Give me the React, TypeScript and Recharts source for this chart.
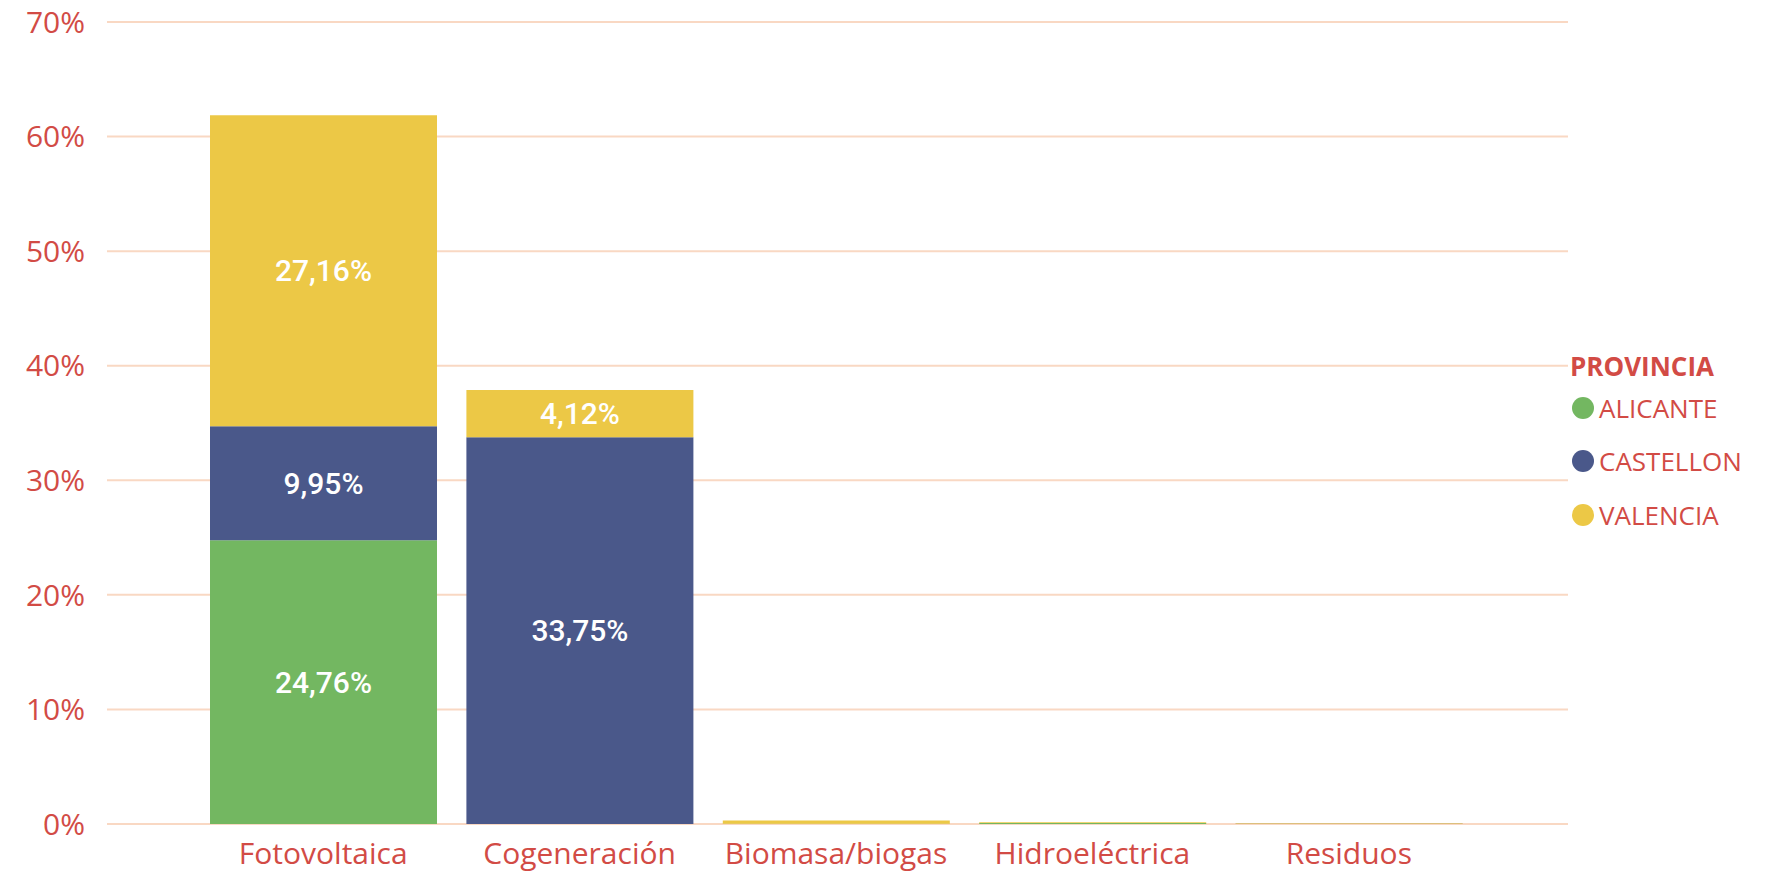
import { BarChart, Bar, XAxis, YAxis, CartesianGrid, LabelList } from 'recharts'

const categories = ['Fotovoltaica', 'Cogeneración', 'Biomasa/biogas', 'Hidroeléctrica', 'Residuos']
const alicante = [24.76, 0, 0.02, 0.08, 0.01]
const castellon = [9.95, 33.75, 0.01, 0.01, 0.01]
const valencia = [27.16, 4.12, 0.27, 0.06, 0.04]
const yTicks = [0, 10, 20, 30, 40, 50, 60, 70]

const series = [
    { key: 'alicante', name: 'ALICANTE', color: '#73B761' },
    { key: 'castellon', name: 'CASTELLON', color: '#4A588A' },
    { key: 'valencia', name: 'VALENCIA', color: '#ECC846' },
]

const data = categories.map((name, i) => ({
    name,
    alicante: alicante[i],
    castellon: castellon[i],
    valencia: valencia[i],
}))

const textColor = '#D24B45'
const font = '"Open Sans", "Noto Sans", sans-serif'

// hide labels on the tiny segments
const fmtLabel = (v: any) => (typeof v === 'number' && v >= 1 ? `${v.toFixed(2).replace('.', ',')}%` : '')

export default function App() {
    return (
        <div style={{ position: 'absolute', left: 0, top: 0, width: 1768, height: 874, background: '#fff' }}>
            <BarChart
                width={1768}
                height={874}
                data={data}
                margin={{ top: 22, right: 200, left: 0, bottom: 0 }}
                barSize={227}
            >
                <CartesianGrid vertical={false} stroke="#F9D8C3" strokeWidth={2} />
                <XAxis
                    dataKey="name"
                    height={50}
                    axisLine={false}
                    tickLine={false}
                    tickSize={0}
                    tickMargin={19}
                    padding={{ left: 88, right: 91 }}
                    tick={{ fill: textColor, fontSize: 30, fontFamily: font }}
                    interval={0}
                />
                <YAxis
                    width={107}
                    domain={[0, 70]}
                    ticks={yTicks}
                    axisLine={false}
                    tickLine={false}
                    tickSize={0}
                    tickMargin={22}
                    tickFormatter={(v) => `${v}%`}
                    tick={{ fill: textColor, fontSize: 30, fontFamily: font }}
                />
                {series.map((s) => (
                    <Bar key={s.key} dataKey={s.key} name={s.name} stackId="a" fill={s.color} isAnimationActive={false}>
                        <LabelList
                            dataKey={s.key}
                            position="center"
                            formatter={fmtLabel}
                            fill="#ffffff"
                            style={{ fontSize: 30, fontFamily: 'Roboto, sans-serif', fontWeight: 500 }}
                        />
                    </Bar>
                ))}
            </BarChart>
            <div style={{ position: 'absolute', left: 1570, top: 348, fontFamily: font, color: textColor }}>
                <div style={{ fontSize: 26, fontWeight: 700, lineHeight: '36px' }}>PROVINCIA</div>
                {series.map((s, i) => (
                    <div
                        key={s.key}
                        style={{
                            position: 'absolute',
                            left: 0,
                            top: 42 + i * 53.3,
                            display: 'flex',
                            alignItems: 'center',
                            height: 36,
                            whiteSpace: 'nowrap',
                        }}
                    >
                        <span
                            style={{
                                display: 'inline-block',
                                width: 22,
                                height: 22,
                                borderRadius: '50%',
                                background: s.color,
                                marginLeft: 2,
                                marginRight: 5,
                            }}
                        />
                        <span style={{ fontSize: 26 }}>{s.name}</span>
                    </div>
                ))}
            </div>
        </div>
    )
}
